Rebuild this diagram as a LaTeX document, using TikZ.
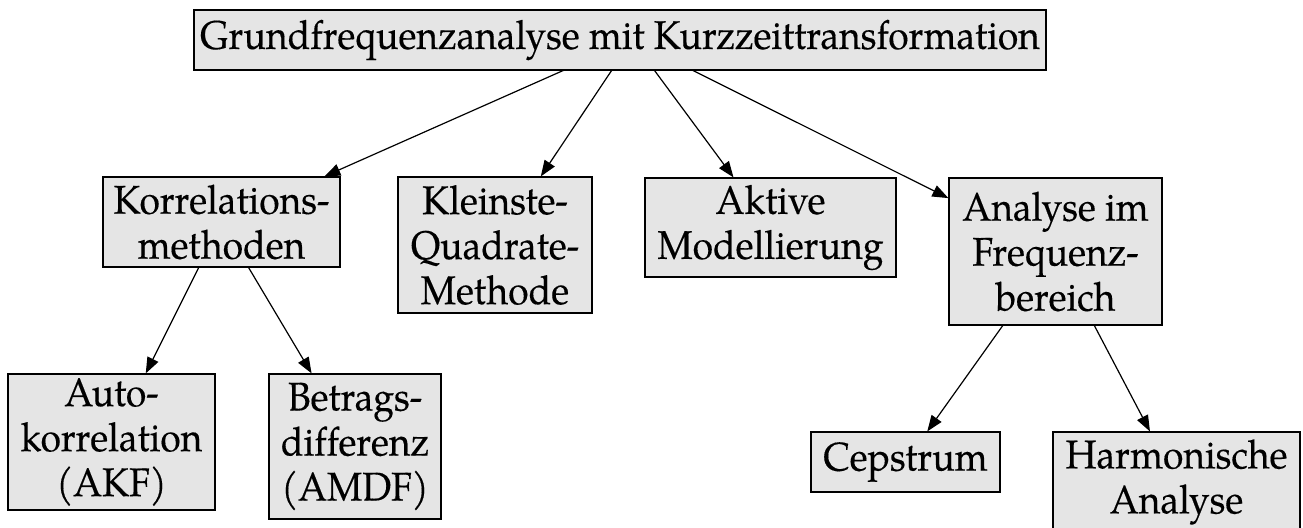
\documentclass[tikz,border=0pt]{standalone}
\usepackage{fontspec}
\setmainfont{TeX Gyre Pagella}[FakeStretch=0.93, FakeBold=0.3, Ligatures=NoCommon]
\usetikzlibrary{arrows.meta,backgrounds}
\definecolor{boxgray}{HTML}{E5E5E5}
\begin{document}
\begin{tikzpicture}[x=0.5pt,y=-0.5pt,
  box/.style={draw=black, line width=0.6pt, fill=boxgray, inner sep=0pt,
    align=center, font=\fontsize{20}{22.5}\selectfont},
  edge/.style={-{Triangle[length=8pt,width=6pt]}, line width=0.6pt}]
\useasboundingbox (0,0) rectangle (1303,527);
\clip (0,0) rectangle (1303,527);

% root
\node[box, minimum width=426pt, minimum height=30pt] (root) at (620,40)
  {Grundfrequenzanalyse mit Kurzzeittransformation};
\coordinate (hub) at (632,40);

% second level
\node[box, minimum width=118.5pt, minimum height=45pt] (kor) at (221.5,222)
  {Korrelations-\\methoden};
\node[box, minimum width=97pt, minimum height=68pt] (kq) at (495,245)
  {Kleinste-\\Quadrate-\\Methode};
\node[box, minimum width=125.5pt, minimum height=49.5pt] (akt) at (770.5,227.5)
  {Aktive\\Modellierung};
\node[box, minimum width=106.5pt, minimum height=73.5pt] (ana) at (1055.5,251.5)
  {Analyse im\\Frequenz-\\bereich};

% third level
\node[box, minimum width=103.5pt, minimum height=68pt] (akf) at (111.5,442)
  {Auto-\\korrelation\\(AKF)};
\node[box, minimum width=86pt, minimum height=72.5pt] (amdf) at (355,446.5)
  {Betrags-\\differenz\\(AMDF)};
\node[box, minimum width=94.5pt, minimum height=30pt] (cep) at (905.5,462)
  {Cepstrum};
\node[box, minimum width=123.5pt, minimum height=50pt] (harm) at (1176.5,482)
  {Harmonische\\Analyse};

% connectors
\begin{pgfonlayer}{background}
  \draw[edge] (hub) -- (kor);
  \draw[edge] (hub) -- (kq);
  \draw[edge] (hub) -- (akt);
  \draw[edge] (hub) -- (ana);
\end{pgfonlayer}
\draw[edge] (kor) -- (akf);
\draw[edge] (kor) -- (amdf);
\draw[edge] (ana) -- (cep);
\draw[edge] (ana) -- (harm);
\end{tikzpicture}
\end{document}
